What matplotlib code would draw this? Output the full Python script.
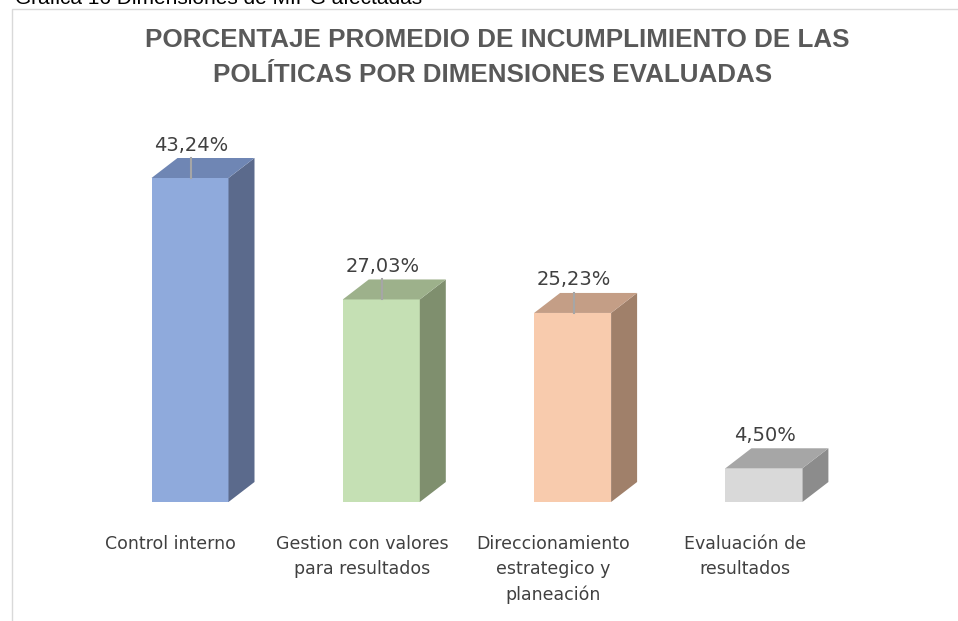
import matplotlib.pyplot as plt
from matplotlib.patches import Polygon, Rectangle

categorias = ['Control interno', 'Gestion con valores\npara resultados',
              'Direccionamiento\nestrategico y\nplaneación', 'Evaluación de\nresultados']
valores = [43.24, 27.03, 25.23, 4.50]
etiquetas = ['43,24%', '27,03%', '25,23%', '4,50%']

# colores: cara frontal, lateral, superior
frente = ['#8faadc', '#c5e0b4', '#f8cbad', '#d9d9d9']
lateral = ['#5b6a8c', '#7f8f6e', '#a0806a', '#8c8c8c']
superior = ['#6f86b4', '#9db18b', '#c49e86', '#a6a6a6']

W, H = 958, 621
fig = plt.figure(figsize=(W / 100, H / 100), dpi=100)

# marco y leyenda de la gráfica (cortada arriba)
fig.add_artist(Rectangle((12 / W, -0.1), 1.2, (H - 9) / H + 0.1, transform=fig.transFigure,
                         fill=False, edgecolor='#d9d9d9', linewidth=1))
fig.text(15 / W, 1 - 4.5 / H, 'Grafica 16 Dimensiones de MIPG afectadas', fontsize=15,
         family='Liberation Sans', color='#000000', va='baseline')

fig.text(497 / W, 1 - 40 / H, 'PORCENTAJE PROMEDIO DE INCUMPLIMIENTO DE LAS',
         ha='center', va='center', fontsize=18.7, fontweight='bold', color='#595959',
         family='Liberation Sans')
fig.text(493 / W, 1 - 75 / H, 'POLÍTICAS POR DIMENSIONES EVALUADAS',
         ha='center', va='center', fontsize=18.7, fontweight='bold', color='#595959',
         family='Liberation Sans')

px_pct = 324 / 43.24
ymax = 50
ax = fig.add_axes([(190 - 95.65) / W, (H - 502) / H, 765.2 / W, ymax * px_pct / H])
ax.set_xlim(-0.5, 3.5)
ax.set_ylim(0, ymax)
ax.axis('off')

ancho = 77 / 191.3
dx = 26 / 191.3
dy = 20 / px_pct

for i, v in enumerate(valores):
    x0, x1 = i - ancho / 2, i + ancho / 2
    ax.add_patch(Polygon([(x0, 0), (x1, 0), (x1, v), (x0, v)], closed=True,
                         facecolor=frente[i], edgecolor='none'))
    ax.add_patch(Polygon([(x1, 0), (x1 + dx, dy), (x1 + dx, v + dy), (x1, v)], closed=True,
                         facecolor=lateral[i], edgecolor='none'))
    ax.add_patch(Polygon([(x0, v), (x1, v), (x1 + dx, v + dy), (x0 + dx, v + dy)], closed=True,
                         facecolor=superior[i], edgecolor='none'))
    if i < 3:
        ax.plot([i + 0.005, i + 0.005], [v, v + dy], color='#a6a6a6', linewidth=1.5)
    ax.text(i + 0.005, v + dy + 13 / px_pct, etiquetas[i], ha='center', va='center',
            fontsize=14, color='#404040', family='DejaVu Sans')

for i, c in enumerate(categorias):
    ax.text(i - 0.1, -33 / px_pct, c, ha='center', va='top', fontsize=12.5,
            color='#404040', family='DejaVu Sans', linespacing=1.5)

fig.savefig('out.png', dpi=100)
